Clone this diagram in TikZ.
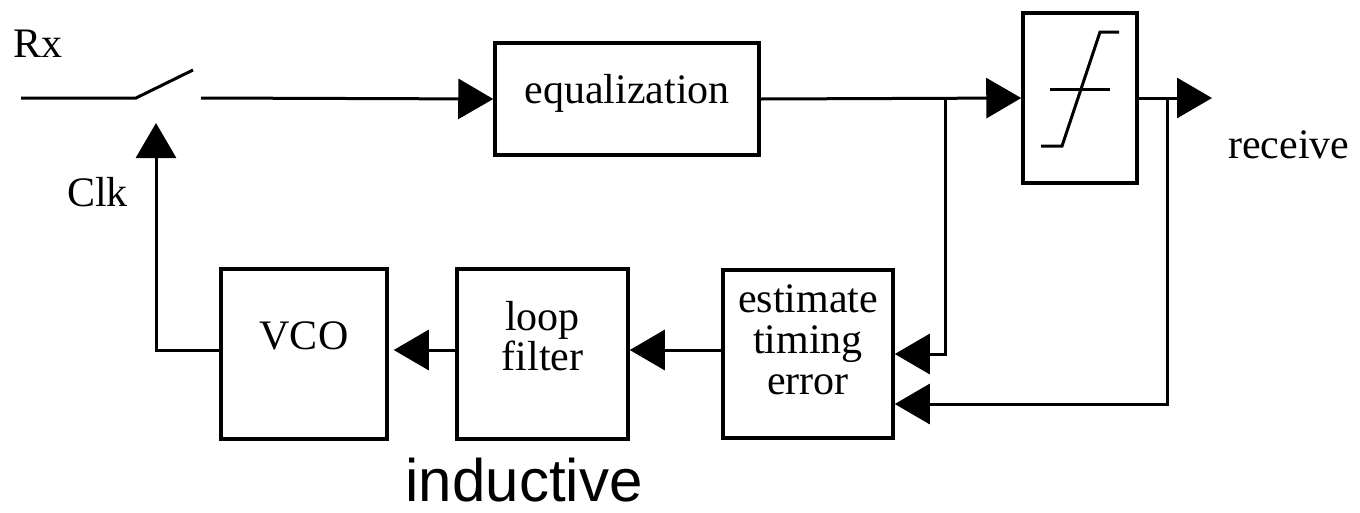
\documentclass[tikz,border=0pt]{standalone}
\usepackage{fontspec}
\setmainfont{Liberation Serif}
\newfontfamily\sansf{Liberation Sans}
\usetikzlibrary{arrows.meta}
\begin{document}
\begin{tikzpicture}[x=1pt,y=-1pt,
  wire/.style={line width=3pt},
  arr/.style={wire,-{Triangle[length=35pt,width=40pt]}},
  blk/.style={draw,line width=3.5pt,inner sep=0pt},
  txt/.style={inner sep=0pt,font=\fontsize{42}{41}\selectfont},
]
\useasboundingbox (0,0) rectangle (1360,512);
% blocks
\node[blk,minimum width=264pt,minimum height=112pt] (eq) at (627,99) {};
\node[blk,minimum width=114pt,minimum height=170pt] (lim) at (1080,98) {};
\node[blk,minimum width=170pt,minimum height=168pt] (est) at (808,354) {};
\node[blk,minimum width=171pt,minimum height=170pt] (lf) at (542.5,354) {};
\node[blk,minimum width=166pt,minimum height=170pt] (vco) at (304,354) {};
% texts
\node[txt,anchor=base west] (rx) at (13,57) {Rx};
\node[txt,anchor=base west] (clk) at (67,206) {Clk};
\node[txt,anchor=base west] (rcv) at (1228,158) {receive};
\node[txt,anchor=base] (teq) at (627,103) {equalization};
\node[txt,anchor=base] (tvco) at (304,349) {VCO};
\node[txt,align=center,font=\fontsize{42}{37}\selectfont] (tlf) at (542.5,336) {loop\\filter};
\node[txt,align=center] (test) at (808,340) {estimate\\timing\\error};
\node[inner sep=0pt,anchor=base,font=\sansf\fontsize{60}{60}\selectfont] (ind) at (524,501) {inductive};
% limiter symbol
\draw[wire] (1041,146) -- (1062,146) -- (1100,32) -- (1119,32);
\draw[wire] (1050,89) -- (1110,89);
% switch and signal path
\coordinate (in) at (21,98);
\coordinate (swA) at (136,98);
\coordinate (swB) at (193,70);
\coordinate (swC) at (201,98);
\coordinate (out) at (1212,98);
\coordinate (tap1) at (945,98);
\coordinate (tap2) at (1167,98);
\coordinate (clktip) at (156,123);
\draw[wire] (in) -- (swA) -- (swB);
\draw[arr] (swC) -- (eq.west);
\draw[arr] (eq.east) -- (lim.west);
\draw[arr] (lim.east) -- (out);
\draw[arr] (tap1) |- (est.east);
\draw[arr] (tap2) |- ([yshift=-50pt]est.east);
\draw[arr] ([yshift=4pt]est.west) -- ([yshift=4pt]lf.east);
\draw[arr,shorten >=5pt] ([yshift=4pt]lf.west) -- ([yshift=4pt]vco.east);
\draw[arr] ([yshift=4pt]vco.west) -| (clktip);
\end{tikzpicture}
\end{document}
